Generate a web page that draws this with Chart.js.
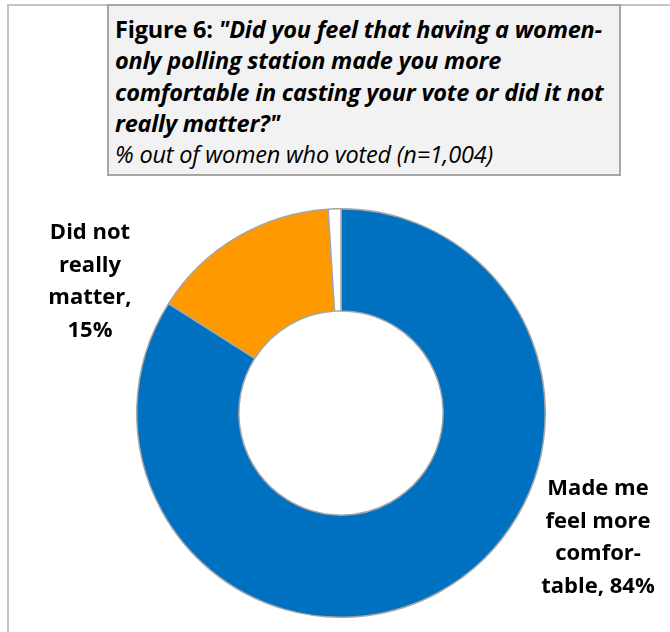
<!DOCTYPE html>
<html>
<head>
<meta charset="utf-8">
<style>
  html, body { margin: 0; padding: 0; background: #fff; }
  body { width: 670px; height: 632px; position: relative; overflow: hidden; font-family: "Open Sans", Lato, sans-serif; color: #000; }
  .frame { position: absolute; left: 7px; top: 4px; width: 700px; height: 700px; border-left: 2px solid #c4c4c4; border-top: 2px solid #c4c4c4; }
  .title-box { position: absolute; left: 107px; top: 4px; width: 504px; height: 160px; padding: 8px 0 0 6px; background: #f2f2f2; border: 2px solid #a6a6a6; font-size: 23.5px; line-height: 31.3px; white-space: nowrap; letter-spacing: -0.2px; }
  .title-box b { font-weight: 700; }
  .title-box .q { font-weight: 700; font-style: italic; }
  .title-box .sub { font-style: italic; }
  #chartWrap { position: absolute; left: 0; top: 0; width: 670px; height: 632px; }
  .slice-label { position: absolute; font-weight: 700; font-size: 22px; line-height: 32.5px; text-align: center; white-space: nowrap; transform: translateX(-50%); }
</style>
</head>
<body>
<div class="frame"></div>
<div id="chartWrap"><canvas id="donut"></canvas></div>
<div class="title-box">
  <b>Figure 6:</b> <span class="q">"Did you feel that having a women-<br>only polling station made you more<br>comfortable in casting your vote or did it not<br>really matter?"</span><br>
  <span class="sub">% out of women who voted (n=1,004)</span>
</div>
<div id="labels"></div>

<script src="https://cdn.jsdelivr.net/npm/chart.js"></script>
<script>
  // Answers and shares (% of women who voted)
  const categories = ['Made me feel more comfortable', 'Did not really matter', 'Other'];
  const shares = [84, 15, 1];
  const sliceColors = ['#0070c0', '#ff9900', '#ffffff'];

  // Label text as wrapped in the original figure (value added below)
  const labelLines = [
    ['Made me', 'feel more', 'comfor-', 'table, {v}%'],
    ['Did not', 'really', 'matter,', '{v}%'],
    []
  ];
  const labelPos = [
    { x: 598, y: 470 },
    { x: 90, y: 214 },
    null
  ];

  document.addEventListener('DOMContentLoaded', function() {
    const canvas = document.getElementById('donut');
    canvas.width = 670;
    canvas.height = 632;

    new Chart(canvas.getContext('2d'), {
      type: 'doughnut',
      data: {
        labels: categories,
        datasets: [{
          data: shares,
          backgroundColor: sliceColors,
          borderColor: '#a6a6a6',
          borderWidth: 1.5,
          borderAlign: 'center'
        }]
      },
      options: {
        responsive: false,
        animation: false,
        cutout: '50%',
        layout: {
          padding: { left: 136, right: 124, top: 208, bottom: 14 }
        },
        plugins: {
          legend: { display: false },
          tooltip: { enabled: false },
          title: { display: false }
        }
      }
    });

    // Slice labels
    const container = document.getElementById('labels');
    labelLines.forEach((lines, i) => {
      if (!lines.length || !labelPos[i]) return;
      const div = document.createElement('div');
      div.className = 'slice-label';
      div.style.left = labelPos[i].x + 'px';
      div.style.top = labelPos[i].y + 'px';
      div.innerHTML = lines.map(l => l.replace('{v}', shares[i])).join('<br>');
      container.appendChild(div);
    });
  });
</script>
</body>
</html>
